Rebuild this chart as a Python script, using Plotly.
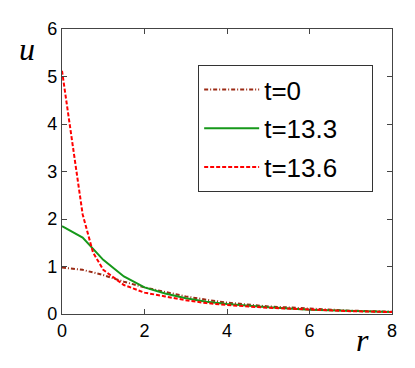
import plotly.graph_objects as go

# radial profiles u(r) at three times
r_t0 = [0, 0.5, 1, 1.5, 2, 2.5, 3, 3.5, 4, 5, 6, 7, 8]
u_t0 = [0.98, 0.93, 0.82, 0.68, 0.56, 0.46, 0.37, 0.30, 0.24, 0.16, 0.11, 0.07, 0.05]

r_t133 = [0, 0.5, 1, 1.5, 2, 2.5, 3, 3.5, 4, 5, 6, 7, 8]
u_t133 = [1.85, 1.61, 1.14, 0.79, 0.56, 0.43, 0.33, 0.26, 0.21, 0.14, 0.09, 0.06, 0.04]

r_t136 = [0, 0.25, 0.5, 0.75, 1, 1.5, 2, 2.5, 3, 3.5, 4, 5, 6, 7, 8]
u_t136 = [5.12, 3.65, 2.1, 1.3, 0.93, 0.61, 0.45, 0.37, 0.29, 0.23, 0.19, 0.13, 0.09, 0.06, 0.04]

pad = '\u00a0' * 4

fig = go.Figure()
fig.add_trace(go.Scatter(x=r_t0, y=u_t0, mode='lines', name='t=0' + pad, legendgroup='a',
                         line=dict(color='#9b2a14', width=2, dash='4px,2px,1px,2px')))
fig.add_trace(go.Scatter(x=r_t133, y=u_t133, mode='lines', name='t=13.3' + pad, legendgroup='b',
                         line=dict(color='#16981a', width=2, dash='solid')))
fig.add_trace(go.Scatter(x=r_t136, y=u_t136, mode='lines', name='t=13.6' + pad, legendgroup='c',
                         line=dict(color='#ff0000', width=2, dash='4px,2px')))

axis_style = dict(showline=True, linecolor='#444', linewidth=1.2, mirror='ticks',
                  ticks='inside', ticklen=5, tickcolor='#444', showgrid=False, zeroline=False,
                  tickfont=dict(family='Liberation Sans, Arial', size=18, color='black'))

fig.update_xaxes(range=[0, 8], tickvals=[0, 2, 4, 6, 8], **axis_style)
fig.update_yaxes(range=[0, 6], tickvals=[0, 1, 2, 3, 4, 5, 6], **axis_style)

serif = dict(family='Liberation Serif, Times New Roman', size=32, color='black')
fig.add_annotation(text='<i>u</i>', xref='paper', yref='paper', x=-0.105, y=0.93, showarrow=False,
                   font=serif, xanchor='center', yanchor='middle')
fig.add_annotation(text='<i>r</i>', xref='paper', yref='paper', x=0.91, y=-0.09, showarrow=False,
                   font=serif, xanchor='center', yanchor='middle')

# page body has an 8px margin, so the figure is shrunk to keep the plot box in place
fig.update_layout(
    width=407, height=360,
    margin=dict(l=54, r=23, t=21, b=54),
    plot_bgcolor='white', paper_bgcolor='white',
    legend=dict(x=0.412, y=0.874, xanchor='left', yanchor='top',
                bordercolor='#333', borderwidth=1.2, bgcolor='white',
                font=dict(family='Liberation Sans, Arial', size=26, color='black'),
                itemwidth=55, tracegroupgap=2),
)

fig.write_html("out.html")
